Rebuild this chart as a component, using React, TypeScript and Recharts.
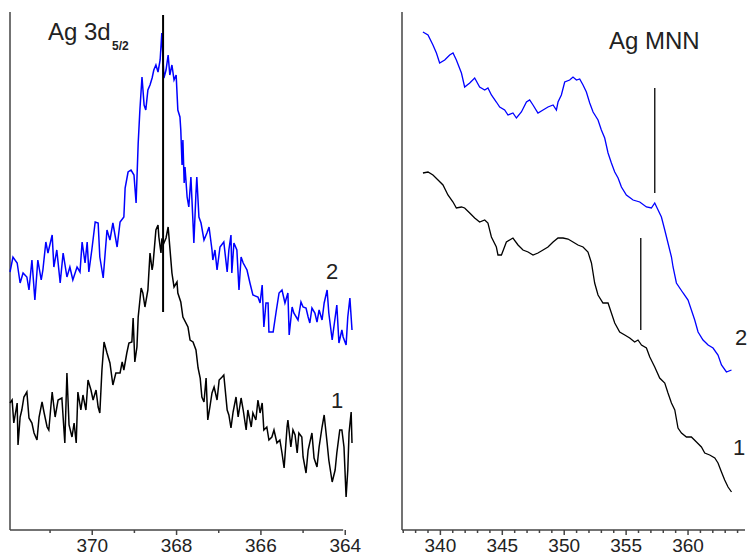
import React from 'react';
import { LineChart, Line, XAxis, YAxis, ReferenceLine } from 'recharts';

const FONT = '"Liberation Sans", Arial, sans-serif';
const INK = '#222';
const AXIS = '#444';

// Ag 3d5/2 — binding energy (eV), intensity (a.u.)
const xpsEnergy2 = [
  371.95, 371.88, 371.78, 371.71, 371.64, 371.55, 371.5, 371.43, 371.36, 371.29,
  371.21, 371.17, 371.1, 371.05, 370.95, 370.91, 370.84, 370.76, 370.69, 370.6,
  370.53, 370.46, 370.36, 370.29, 370.24, 370.17, 370.12, 370.08, 370.01, 369.93,
  369.86, 369.82, 369.74, 369.65, 369.58, 369.51, 369.41, 369.34, 369.25, 369.22,
  369.15, 369.08, 369.01, 368.96, 368.91, 368.87, 368.82, 368.77, 368.73, 368.68,
  368.63, 368.58, 368.54, 368.49, 368.44, 368.39, 368.35, 368.3, 368.25, 368.2,
  368.16, 368.11, 368.06, 368.01, 367.97, 367.92, 367.9, 367.87, 367.85, 367.82,
  367.8, 367.75, 367.71, 367.66, 367.61, 367.59, 367.54, 367.52, 367.47, 367.42,
  367.35, 367.28, 367.23, 367.16, 367.14, 367.09, 367.04, 366.97, 366.88, 366.8,
  366.76, 366.71, 366.69, 366.64, 366.57, 366.52, 366.47, 366.42, 366.33, 366.26,
  366.19, 366.07, 366.02, 365.97, 365.93, 365.88, 365.83, 365.81, 365.71, 365.64,
  365.57, 365.5, 365.43, 365.36, 365.33, 365.26, 365.22, 365.12, 365.05, 365.0,
  364.93, 364.88, 364.84, 364.79, 364.72, 364.67, 364.62, 364.55, 364.5, 364.43,
  364.39, 364.31, 364.27, 364.2, 364.15, 364.08, 364.05, 363.98, 363.94, 363.89,
  363.84,
];
const xpsCounts2 = [
  258, 273, 267, 247, 257, 253, 240, 270, 230, 270,
  250, 260, 288, 277, 295, 263, 280, 247, 277, 253,
  263, 250, 263, 258, 288, 267, 288, 258, 280, 308,
  307, 273, 252, 300, 290, 307, 283, 308, 313, 342,
  358, 360, 355, 327, 387, 420, 453, 425, 420, 440,
  445, 452, 460, 465, 458, 470, 497, 452, 460, 475,
  455, 465, 450, 455, 420, 413, 400, 365, 390, 347,
  363, 333, 323, 353, 307, 287, 337, 353, 313, 307,
  290, 297, 303, 280, 270, 280, 260, 283, 288, 258,
  280, 295, 257, 287, 280, 240, 273, 267, 260, 247,
  235, 233, 227, 245, 203, 227, 227, 198, 198, 218,
  237, 240, 227, 237, 195, 223, 217, 210, 228, 223,
  222, 213, 207, 222, 217, 208, 220, 210, 227, 240,
  217, 190, 203, 225, 187, 200, 193, 185, 213, 232,
  200,
];
const xpsEnergy1 = [
  371.95, 371.9, 371.86, 371.78, 371.76, 371.71, 371.67, 371.62, 371.55, 371.5,
  371.43, 371.38, 371.31, 371.26, 371.19, 371.14, 371.07, 371.03, 370.95, 370.88,
  370.81, 370.72, 370.65, 370.6, 370.55, 370.48, 370.43, 370.38, 370.34, 370.27,
  370.22, 370.15, 370.1, 370.03, 369.98, 369.91, 369.86, 369.82, 369.77, 369.72,
  369.65, 369.58, 369.51, 369.44, 369.34, 369.29, 369.25, 369.18, 369.13, 369.06,
  369.03, 368.99, 368.94, 368.91, 368.84, 368.8, 368.75, 368.68, 368.63, 368.58,
  368.56, 368.49, 368.44, 368.42, 368.37, 368.35, 368.3, 368.25, 368.2, 368.18,
  368.11, 368.06, 367.99, 367.97, 367.9, 367.85, 367.73, 367.68, 367.61, 367.54,
  367.49, 367.44, 367.4, 367.35, 367.3, 367.26, 367.21, 367.16, 367.11, 367.04,
  366.99, 366.92, 366.88, 366.8, 366.76, 366.71, 366.66, 366.59, 366.54, 366.47,
  366.42, 366.35, 366.31, 366.23, 366.19, 366.12, 366.07, 366.02, 365.97, 365.93,
  365.86, 365.81, 365.74, 365.69, 365.62, 365.55, 365.5, 365.45, 365.38, 365.36,
  365.29, 365.24, 365.19, 365.14, 365.1, 365.03, 365.0, 364.93, 364.88, 364.79,
  364.74, 364.67, 364.62, 364.55, 364.5, 364.43, 364.39, 364.31, 364.24, 364.2,
  364.13, 364.08, 364.03, 363.98, 363.94, 363.91, 363.86, 363.84,
];
const xpsCounts1 = [
  127, 130, 107, 127, 85, 113, 120, 133, 138, 112,
  107, 97, 90, 113, 128, 117, 103, 100, 138, 113,
  130, 132, 87, 157, 105, 93, 107, 87, 138, 120,
  135, 120, 150, 140, 130, 140, 123, 117, 160, 188,
  177, 167, 145, 157, 157, 168, 160, 177, 187, 188,
  212, 168, 183, 213, 242, 237, 223, 240, 277, 260,
  265, 300, 305, 293, 277, 290, 287, 292, 303, 293,
  257, 243, 248, 237, 228, 213, 203, 190, 188, 180,
  162, 152, 133, 128, 152, 110, 123, 137, 143, 130,
  150, 153, 155, 120, 115, 102, 118, 133, 113, 132,
  120, 100, 120, 103, 117, 110, 130, 117, 127, 100,
  103, 90, 93, 100, 87, 90, 77, 62, 103, 110,
  83, 100, 95, 77, 97, 93, 73, 57, 80, 97,
  72, 63, 83, 103, 115, 87, 70, 48, 60, 77,
  100, 100, 83, 33, 60, 97, 118, 87,
];
const xpsTicks = [364, 365, 366, 367, 368, 369, 370, 371];

// Ag MNN — kinetic energy (eV), intensity (a.u.)
const augerEnergy2 = [
  338.59, 339.0, 339.4, 339.68, 339.94, 340.35, 340.75, 341.02, 341.29, 341.7,
  341.96, 342.37, 342.77, 343.17, 343.58, 343.84, 344.12, 344.52, 344.79, 345.19,
  345.46, 345.86, 346.14, 346.54, 346.95, 347.21, 347.48, 347.88, 348.29, 348.69,
  349.1, 349.37, 349.5, 349.77, 350.04, 350.44, 350.71, 350.99, 351.25, 351.52,
  351.79, 352.06, 352.33, 352.73, 353.0, 353.27, 353.54, 353.81, 354.08, 354.35,
  354.62, 355.02, 355.56, 356.1, 356.64, 357.04, 357.31, 357.58, 357.85, 358.12,
  358.38, 358.66, 358.79, 359.06, 359.6, 360.0, 360.27, 360.54, 360.81, 361.21,
  361.62, 362.02, 362.42, 362.7, 363.1, 363.51,
];
const augerCounts2 = [
  498, 495, 485, 477, 467, 470, 475, 477, 470, 457,
  443, 447, 452, 443, 440, 442, 435, 428, 423, 420,
  415, 417, 412, 418, 428, 430, 425, 417, 420, 423,
  425, 420, 428, 435, 448, 450, 453, 450, 451, 445,
  438, 427, 418, 410, 400, 392, 377, 367, 358, 352,
  343, 335, 330, 328, 323, 322, 327, 320, 313, 300,
  287, 273, 263, 247, 237, 230, 220, 210, 198, 190,
  185, 182, 175, 165, 158, 160,
];
const augerEnergy1 = [
  338.59, 339.0, 339.4, 339.81, 340.21, 340.61, 341.02, 341.29, 341.7, 341.96,
  342.37, 342.77, 343.17, 343.58, 343.84, 344.12, 344.52, 344.65, 344.93, 345.33,
  345.86, 346.27, 346.67, 347.08, 347.48, 347.88, 348.29, 348.69, 349.1, 349.5,
  349.9, 350.31, 350.71, 351.11, 351.52, 351.92, 352.2, 352.46, 352.73, 353.13,
  353.54, 353.81, 354.08, 354.48, 354.89, 355.29, 355.69, 355.96, 356.24, 356.64,
  356.91, 357.31, 357.71, 358.12, 358.38, 358.66, 358.93, 359.19, 359.47, 359.87,
  360.27, 360.68, 361.08, 361.35, 361.75, 362.16, 362.42, 362.7, 362.96, 363.23,
  363.51,
];
const augerCounts1 = [
  357, 358, 355, 350, 345, 335, 328, 322, 323, 322,
  317, 312, 308, 310, 307, 293, 283, 275, 275, 288,
  292, 285, 280, 278, 275, 277, 280, 283, 288, 292,
  292, 291, 288, 285, 283, 278, 267, 247, 235, 227,
  227, 217, 207, 198, 195, 192, 188, 190, 185, 182,
  173, 163, 152, 147, 137, 127, 120, 102, 97, 93,
  93, 88, 83, 77, 75, 72, 67, 58, 50, 43,
  38,
];
const augerTicks = [
  337, 338, 339, 340, 341, 342, 343, 344, 345, 346, 347, 348, 349, 350,
  351, 352, 353, 354, 355, 356, 357, 358, 359, 360, 361, 362, 363, 364,
];

// peak position markers: energy, intensity from / to
const xpsMarker = { e: 368.32, lo: 218, hi: 515 };
const augerMarkers = [
  { e: 357.31, lo: 337, hi: 442 },
  { e: 356.18, lo: 200, hi: 292 },
];

const Y_MAX = 518;
const TICK_SIZE = 4;
const TICK_MARGIN = 5;

const rows = (e: number[], v: number[]) => e.map((x, i) => ({ e: x, v: v[i] }));

function AxisTick(props: any) {
  const { x, y, payload, every } = props;
  const major = Math.round(payload.value) % every === 0;
  const y0 = y - TICK_SIZE - TICK_MARGIN;
  return (
    <g>
      <line x1={x} x2={x} y1={y0} y2={y0 + (major ? 5 : 3)} stroke={AXIS} strokeWidth={1.5} />
      {major && (
        <text x={x} y={y} dy="0.71em" textAnchor="middle" fontFamily={FONT} fontSize={19} fill={INK}>
          {payload.value}
        </text>
      )}
    </g>
  );
}

function XpsPanel() {
  return (
    <LineChart width={372} height={556} margin={{ top: 12, right: 20, bottom: 0, left: 10 }}>
      <XAxis
        type="number"
        dataKey="e"
        domain={[363.84, 371.95]}
        reversed
        ticks={xpsTicks}
        interval={0}
        height={26}
        tickSize={TICK_SIZE}
        tickMargin={TICK_MARGIN}
        tickLine={false}
        axisLine={false}
        tick={(p: any) => <AxisTick {...p} every={2} />}
      />
      <YAxis type="number" domain={[0, Y_MAX]} hide />
      <ReferenceLine segment={[{ x: 371.95, y: 0 }, { x: 364.05, y: 0 }]} stroke={AXIS} strokeWidth={1.5} />
      <ReferenceLine segment={[{ x: 371.95, y: 0 }, { x: 371.95, y: Y_MAX }]} stroke={AXIS} strokeWidth={1.5} />
      <Line data={rows(xpsEnergy2, xpsCounts2)} dataKey="v" type="linear" dot={false} stroke="#0000ff" strokeWidth={1.5} isAnimationActive={false} />
      <Line data={rows(xpsEnergy1, xpsCounts1)} dataKey="v" type="linear" dot={false} stroke="#000" strokeWidth={1.5} isAnimationActive={false} />
      <ReferenceLine
        segment={[{ x: xpsMarker.e, y: xpsMarker.lo }, { x: xpsMarker.e, y: xpsMarker.hi }]}
        stroke="#000"
        strokeWidth={2}
      />
    </LineChart>
  );
}

function AugerPanel() {
  return (
    <LineChart width={368} height={556} margin={{ top: 12, right: 3, bottom: 0, left: 22 }}>
      <XAxis
        type="number"
        dataKey="e"
        domain={[336.9, 364.6]}
        ticks={augerTicks}
        interval={0}
        height={26}
        tickSize={TICK_SIZE}
        tickMargin={TICK_MARGIN}
        tickLine={false}
        axisLine={{ stroke: AXIS, strokeWidth: 1.5 }}
        tick={(p: any) => <AxisTick {...p} every={5} />}
      />
      <YAxis type="number" domain={[0, Y_MAX]} hide />
      <ReferenceLine segment={[{ x: 336.9, y: 0 }, { x: 336.9, y: Y_MAX }]} stroke={AXIS} strokeWidth={1.5} />
      <Line data={rows(augerEnergy2, augerCounts2)} dataKey="v" type="linear" dot={false} stroke="#0000ff" strokeWidth={1.3} isAnimationActive={false} />
      <Line data={rows(augerEnergy1, augerCounts1)} dataKey="v" type="linear" dot={false} stroke="#000" strokeWidth={1.3} isAnimationActive={false} />
      {augerMarkers.map((m) => (
        <ReferenceLine
          key={m.e}
          segment={[{ x: m.e, y: m.lo }, { x: m.e, y: m.hi }]}
          stroke="#222"
          strokeWidth={1.5}
        />
      ))}
    </LineChart>
  );
}

export default function App() {
  const label = { fontFamily: FONT, fill: INK } as const;
  return (
    <div style={{ position: 'absolute', left: 0, top: 0, width: 748, height: 556, background: '#fff' }}>
      <div style={{ position: 'absolute', left: 0, top: 0 }}>
        <XpsPanel />
      </div>
      <div style={{ position: 'absolute', left: 380, top: 0 }}>
        <AugerPanel />
      </div>
      <svg width={748} height={556} style={{ position: 'absolute', left: 0, top: 0, pointerEvents: 'none' }}>
        <text x={48} y={40} fontSize={24} {...label}>Ag 3d</text>
        <text x={112} y={50} fontSize={12} fontWeight="bold" {...label}>5/2</text>
        <text x={609} y={49} fontSize={24} {...label}>Ag MNN</text>
        <text x={332} y={279} fontSize={22} textAnchor="middle" {...label}>2</text>
        <text x={337} y={408} fontSize={22} textAnchor="middle" {...label}>1</text>
        <text x={741} y={345} fontSize={22} textAnchor="middle" {...label}>2</text>
        <text x={739} y={455} fontSize={22} textAnchor="middle" {...label}>1</text>
      </svg>
    </div>
  );
}
